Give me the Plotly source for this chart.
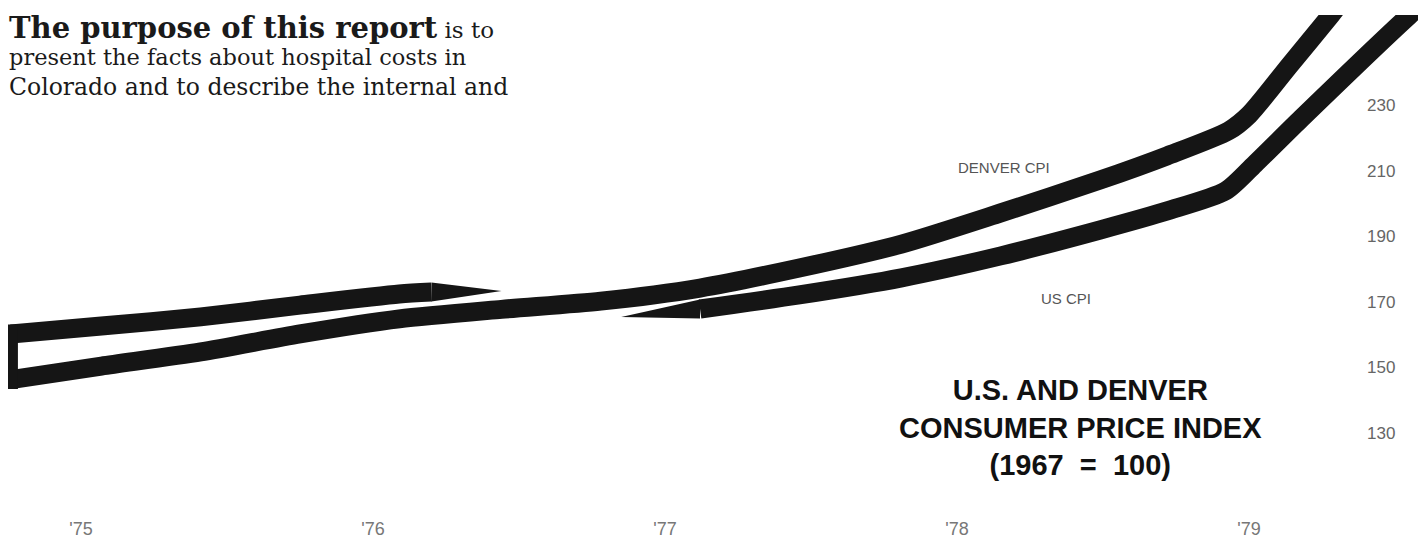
import plotly.graph_objects as go

# ---------------- data ----------------
# fractional years; CPI with 1967 = 100
denver_t = [1974.76, 1975.07, 1975.41, 1975.75, 1976.09, 1976.44, 1976.78, 1977.12,
            1977.46, 1977.81, 1978.15, 1978.49, 1978.72, 1978.93, 1979.00, 1979.14,
            1979.28, 1979.32]
denver_cpi = [146.3, 150.4, 154.7, 160.2, 164.8, 167.7, 170.2, 174.2,
              180.3, 187.6, 197.1, 207.1, 214.5, 222.1, 227.0, 242.2,
              257.4, 262.0]

# the US ribbon passes behind the Denver ribbon (None = hidden stretch)
us_t = [1974.76, 1975.07, 1975.41, 1975.75, 1976.09, 1976.20, 1976.44, None,
        1976.85, 1977.12, 1977.46, 1977.81, 1978.15, 1978.49, 1978.72, 1978.92,
        1979.02, 1979.18, 1979.55, 1979.61]
us_cpi = [160.2, 162.6, 165.4, 169.0, 172.4, 173.0, 173.3, None,
          165.4, 167.8, 172.1, 177.3, 184.0, 191.9, 197.7, 203.8,
          212.0, 226.0, 257.4, 262.0]

year_ticks = [1975, 1976, 1977, 1978, 1979]
year_labels = ["'75", "'76", "'77", "'78", "'79"]
cpi_ticks = [130, 150, 170, 190, 210, 230]

# ---------------- layout constants ----------------
OFF = 8                 # page body margin of the html page
VW, VH = 1426, 541      # browser window
W, H = VW - OFF, VH - OFF
TOP = 15 - OFF
X_RANGE = [1974.75, 1979.6062]
Y_RANGE = [97.073, 257.439]
RIB_W = 19
INK = "#151515"
px_per_unit = (H - TOP) / (Y_RANGE[1] - Y_RANGE[0])
hw = (RIB_W / 2) / px_per_unit  # half ribbon thickness in data units

SANS = "Liberation Sans, Arial, Helvetica, sans-serif"
SERIF = "DejaVu Serif, Liberation Serif, serif"


def segments(ts, vs):
    segs, cur = [], ([], [])
    for t, v in zip(ts, vs):
        if t is None or v is None:
            if cur[0]:
                segs.append(cur)
            cur = ([], [])
        else:
            cur[0].append(t)
            cur[1].append(v)
    if cur[0]:
        segs.append(cur)
    return segs


fig = go.Figure()

# US ribbon (behind), with tapered ends where it disappears
us_segs = segments(us_t, us_cpi)
for i, (ts, vs) in enumerate(us_segs):
    lt, lv = list(ts), list(vs)
    if i < len(us_segs) - 1:  # taper at end
        fig.add_trace(go.Scatter(
            x=[ts[-2], ts[-1], ts[-2], ts[-2]],
            y=[vs[-2] + hw, vs[-1], vs[-2] - hw, vs[-2] + hw],
            fill="toself", fillcolor=INK, mode="lines", line=dict(width=0, color=INK),
            hoverinfo="skip", showlegend=False))
        lt, lv = lt[:-1], lv[:-1]
    if i > 0:  # taper at start
        fig.add_trace(go.Scatter(
            x=[ts[1], ts[0], ts[1], ts[1]],
            y=[vs[1] + hw, vs[0], vs[1] - hw, vs[1] + hw],
            fill="toself", fillcolor=INK, mode="lines", line=dict(width=0, color=INK),
            hoverinfo="skip", showlegend=False))
        lt, lv = lt[1:], lv[1:]
    fig.add_trace(go.Scatter(
        x=lt, y=lv, mode="lines", name="US CPI",
        line=dict(color=INK, width=RIB_W, shape="spline", smoothing=0.7),
        showlegend=False))

# Denver ribbon (in front)
fig.add_trace(go.Scatter(
    x=denver_t, y=denver_cpi, mode="lines", name="Denver CPI",
    line=dict(color=INK, width=RIB_W, shape="spline", smoothing=0.7),
    showlegend=False))

# left closing bar joining the two ribbons
fig.add_shape(type="line", xref="x", yref="y",
              x0=denver_t[0], x1=denver_t[0],
              y0=us_cpi[0] + hw, y1=denver_cpi[0] - hw,
              line=dict(color=INK, width=14))


def px(x):
    return (x - OFF) / W


def py(y):
    return (VH - y) / (H - TOP)


NB = "\u00a0"
ann = []
# series labels
ann.append(dict(text="DENVER CPI", x=px(1052), y=py(167), xanchor="right", yanchor="middle",
                font=dict(family=SANS, size=15, color="#555555")))
ann.append(dict(text="US CPI", x=px(1066), y=py(298), xanchor="center", yanchor="middle",
                font=dict(family=SANS, size=15, color="#555555")))
# chart title
ann.append(dict(text="<b>U.S. AND DENVER<br>CONSUMER PRICE INDEX<br>(1967" + NB + NB + "=" + NB + NB + "100)</b>",
                x=px(1080), y=py(427), xanchor="center", yanchor="middle", align="center",
                font=dict(family=SANS, size=29, color="#111111")))
# report text
ann.append(dict(text="<span style='font-size:29px'><b>The purpose of this report</b></span> is to",
                x=px(7), y=py(28), xanchor="left", yanchor="middle",
                font=dict(family=SERIF, size=23, color="#1a1a1a")))
ann.append(dict(text="present the facts about hospital costs in",
                x=px(7), y=py(57), xanchor="left", yanchor="middle",
                font=dict(family=SERIF, size=22.5, color="#1a1a1a")))
ann.append(dict(text="Colorado and to describe the internal and",
                x=px(7), y=py(87), xanchor="left", yanchor="middle",
                font=dict(family=SERIF, size=23.5, color="#1a1a1a")))
for a in ann:
    a.update(xref="paper", yref="paper", showarrow=False)

fig.update_layout(
    width=W, height=H,
    margin=dict(l=0, r=0, t=TOP, b=0, pad=0),
    paper_bgcolor="white", plot_bgcolor="white",
    showlegend=False,
    annotations=ann,
    xaxis=dict(range=X_RANGE, tickvals=year_ticks, ticktext=year_labels,
               showgrid=False, zeroline=False, showline=False, ticks="",
               anchor="free", position=0.047, side="bottom",
               tickfont=dict(family=SANS, size=18, color="#777777")),
    yaxis=dict(range=Y_RANGE, tickvals=cpi_ticks, showgrid=False, zeroline=False,
               showline=False, ticks="", anchor="free", position=0.9577, side="right",
               tickfont=dict(family=SANS, size=17, color="#666666")),
)

fig.write_html("out.html")
